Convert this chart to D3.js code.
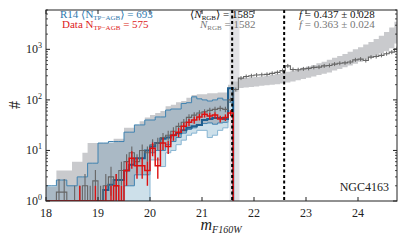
<!DOCTYPE html>
<html>
<head>
<meta charset="utf-8">
<script src="https://cdn.jsdelivr.net/npm/d3@7"></script>
<style>
body { margin: 0; background: #fff; }
text { font-family: "Liberation Serif", "DejaVu Serif", serif; }
</style>
</head>
<body>
<script>
// histogram bins (lower edges, 0.1 mag wide)
var binWidth = 0.1;
var agbMag = [18.0, 18.1, 18.2, 18.3, 18.4, 18.5, 18.6, 18.7, 18.8, 18.9,
              19.0, 19.1, 19.2, 19.3, 19.4, 19.5, 19.6, 19.7, 19.8, 19.9,
              20.0, 20.1, 20.2, 20.3, 20.4, 20.5, 20.6, 20.7, 20.8, 20.9,
              21.0, 21.1, 21.2, 21.3, 21.4, 21.5];
var rgbMag = [21.6, 21.7, 21.8, 21.9, 22.0, 22.1, 22.2, 22.3, 22.4, 22.5,
              22.6, 22.7, 22.8, 22.9, 23.0, 23.1, 23.2, 23.3, 23.4, 23.5,
              23.6, 23.7, 23.8, 23.9, 24.0, 24.1, 24.2, 24.3, 24.4, 24.5,
              24.6, 24.7];

// model total (light gray band) above the TRGB
var totalLo = [0, 0, 0, 0, 0, 0, 0, 0, 0, 0,
               0, 0, 0, 0, 0, 2, 2, 3.3, 3.3, 3.3,
               9, 10, 10, 13, 15, 18, 22, 26, 28, 32,
               34, 35, 33, 35, 36, 90];
var totalHi = [1.9, 1.9, 4, 4, 4, 6, 6, 9, 14, 14,
               14, 14, 14, 17, 17, 28, 28, 32, 38, 45,
               50, 55, 60, 75, 80, 90, 95, 110, 125, 130,
               130, 135, 135, 140, 140, 200];
// R14 TP-AGB model band
var r14Lo = [0, 0, 0, 0, 0, 0, 0, 0, 0, 0,
             0, 0, 0, 0, 0, 2, 2, 3.3, 3.3, 3.3,
             9, 10, 10, 13, 15, 18, 22, 26, 28, 32,
             34, 35, 33, 35, 36, 90];
var r14Hi = [2, 2, 2.6, 2.6, 2, 2, 3, 3, 5.6, 5.6,
             14, 14, 15, 15, 15, 23, 23, 32, 32, 40,
             40, 46, 46, 63, 66, 66, 85, 88, 115, 105,
             100, 95, 100, 108, 100, 170];
// lower R14 band (light blue)
var r14AltLo = [0, 0, 0, 0, 0, 0, 0, 0, 0, 0,
                0, 0, 0, 0, 0, 0, 0, 0, 0, 0,
                6.5, 6.5, 4.8, 9, 10, 13, 16, 20, 22, 25,
                25, 18, 20, 25, 28, 60];
var r14Median = [0, 0, 0, 0, 0, 0, 0, 0, 0, 0,
                 1, 1.65, 2.1, 2.6, 2.6, 4, 5.2, 7, 7, 10,
                 12, 14, 17, 18, 20, 22, 25, 28, 30, 32,
                 40, 42, 44, 44, 42, 170];
// observed counts
var dataAll = [0, 0, 1.5, 1.5, 0, 1, 1, 2, 1, 2.5,
               1, 2, 3, 2, 4, 6, 9, 6, 10, 9,
               13, 14, 18, 20, 24, 30, 36, 45, 50, 55,
               58, 62, 65, 68, 65, 100];
var dataAgb = [0, 0, 0, 0, 0, 0, 1, 0, 0, 1,
               0, 1, 1, 2, 1, 4, 7, 5, 5, 4,
               11, 5, 14, 12, 20, 23, 30, 36, 40, 46,
               52, 48, 50, 42, 45, 55];
// below the TRGB
var rgbLo = [145, 172, 175, 180, 185, 190, 195, 200, 205, 212,
             220, 230, 245, 260, 275, 290, 310, 330, 350, 380,
             410, 440, 480, 520, 570, 620, 680, 750, 830, 920,
             1050, 1300];
var rgbHi = [230, 270, 275, 280, 285, 290, 300, 310, 325, 340,
             360, 380, 400, 430, 460, 490, 530, 570, 620, 680,
             740, 810, 900, 1000, 1100, 1250, 1400, 1600, 1850, 2200,
             2700, 3500];
var rgbData = [160, 270, 290, 300, 310, 315, 320, 335, 350, 380,
               470, 400, 395, 410, 420, 440, 445, 470, 480, 510,
               530, 540, 560, 620, 640, 600, 700, 720, 760, 820,
               880, 1030];

var trgb = 21.58, trgbLo = 21.53, trgbHi = 21.72, trgbPlusOne = 22.58;
var xTicks = [18, 19, 20, 21, 22, 23, 24];
var yTicks = [1, 10, 100, 1000];

var width = 407, height = 244,
    plotLeft = 46, plotRight = 397, plotTop = 10, plotBottom = 201;

var svg = d3.select('body')
    .append('svg')
    .attr('width', width)
    .attr('height', height);

var x = d3.scaleLinear().domain([18, 24.75]).range([plotLeft, plotRight]);
var y = d3.scaleLog().domain([1, 6000]).range([plotBottom, plotTop]).clamp(true);

//zero counts fall to the bottom of the log axis
var yv = function (v) { return y(Math.max(v, 0.5)); };

svg.append('clipPath').attr('id', 'plot')
    .append('rect')
    .attr('x', plotLeft).attr('y', plotTop)
    .attr('width', plotRight - plotLeft).attr('height', plotBottom - plotTop);

var g = svg.append('g').attr('clip-path', 'url(#plot)');

//turn binned values into step points
var steps = function (mags, vals, dropEnd) {
    var pts = [];
    mags.forEach(function (m, i) {
        pts.push([m, vals[i]]);
        pts.push([m + binWidth, vals[i]]);
    });
    if (dropEnd) pts.push([mags[mags.length - 1] + binWidth, 0]);
    return pts;
};
var bandSteps = function (mags, lo, hi) {
    var pts = [];
    mags.forEach(function (m, i) {
        pts.push({ m: m, lo: lo[i], hi: hi[i] });
        pts.push({ m: m + binWidth, lo: lo[i], hi: hi[i] });
    });
    return pts;
};

var line = d3.line().x(function (d) { return x(d[0]); }).y(function (d) { return yv(d[1]); });
var area = d3.area()
    .x(function (d) { return x(d.m); })
    .y0(function (d) { return yv(d.lo); })
    .y1(function (d) { return yv(d.hi); });

//TRGB uncertainty strip
g.append('rect')
    .attr('x', x(trgbLo)).attr('y', plotTop)
    .attr('width', x(trgbHi) - x(trgbLo)).attr('height', plotBottom - plotTop)
    .style('fill', '#e2e2e6');

//light gray model bands
g.append('path').attr('d', area(bandSteps(agbMag, totalLo, totalHi))).style('fill', '#c9cacd');
g.append('path').attr('d', area(bandSteps(rgbMag, rgbLo, rgbHi))).style('fill', '#c9cacd');

//R14 bands
g.append('path').attr('d', area(bandSteps(agbMag, r14AltLo, r14Lo))).style('fill', '#cde0ea');
g.append('path').attr('d', area(bandSteps(agbMag, r14Lo, r14Hi)))
    .style('fill', '#3d7ea8').style('fill-opacity', 0.22);
g.append('path').attr('d', line(steps(agbMag, r14Hi, true)))
    .style('fill', 'none').style('stroke', '#3f82b0').style('stroke-width', 1);
g.append('path').attr('d', line(steps(agbMag, r14Lo, false)))
    .style('fill', 'none').style('stroke', '#3f82b0').style('stroke-width', 1);
g.append('path').attr('d', line(steps(agbMag, r14AltLo, false)))
    .style('fill', 'none').style('stroke', '#86b4d2').style('stroke-width', 1);
g.append('path').attr('d', line(steps(agbMag, r14Median, true)))
    .style('fill', 'none').style('stroke', '#1f5f8f').style('stroke-width', 2);

//error bars at bin centres
var errorBars = function (mags, vals, color, w, minHalf) {
    mags.forEach(function (m, i) {
        var v = vals[i];
        if (v <= 0) return;
        var e = Math.sqrt(v);
        var cx = x(m + binWidth / 2);
        var y1 = yv(v - e), y2 = yv(v + e), yc = yv(v);
        y1 = Math.max(y1, yc + minHalf);
        y2 = Math.min(y2, yc - minHalf);
        g.append('line')
            .attr('x1', cx).attr('x2', cx).attr('y1', y1).attr('y2', y2)
            .style('stroke', color).style('stroke-width', w);
    });
};

//observed histograms
var allMag = agbMag.concat(rgbMag);
var allData = dataAll.concat(rgbData);
g.append('path').attr('d', line(steps(allMag, allData, false)))
    .style('fill', 'none').style('stroke', '#666').style('stroke-width', 1.1);
errorBars(agbMag, dataAll, '#666', 1.1, 0);
errorBars(rgbMag, rgbData, '#666', 1, 2);

g.append('path').attr('d', line(steps(agbMag, dataAgb, true)))
    .style('fill', 'none').style('stroke', '#dd1111').style('stroke-width', 1.5);
errorBars(agbMag, dataAgb, '#dd1111', 1.4, 0);

//TRGB and TRGB+1 markers
[trgb, trgbPlusOne].forEach(function (m) {
    svg.append('line')
        .attr('x1', x(m)).attr('x2', x(m)).attr('y1', plotTop).attr('y2', plotBottom)
        .style('stroke', '#000').style('stroke-width', 2)
        .style('stroke-dasharray', '3,2.5');
});

//frame and ticks
svg.append('rect')
    .attr('x', plotLeft).attr('y', plotTop)
    .attr('width', plotRight - plotLeft).attr('height', plotBottom - plotTop)
    .style('fill', 'none').style('stroke', '#222').style('stroke-width', 1);

xTicks.forEach(function (t) {
    svg.append('line').attr('x1', x(t)).attr('x2', x(t)).attr('y1', plotBottom).attr('y2', plotBottom - 4)
        .style('stroke', '#222');
    svg.append('line').attr('x1', x(t)).attr('x2', x(t)).attr('y1', plotTop).attr('y2', plotTop + 4)
        .style('stroke', '#222');
    svg.append('text')
        .attr('x', x(t)).attr('y', 217)
        .attr('text-anchor', 'middle')
        .style('font-size', '12px').style('fill', '#222')
        .text(t);
});

yTicks.forEach(function (t, k) {
    svg.append('line').attr('x1', plotLeft).attr('x2', plotLeft + 4).attr('y1', y(t)).attr('y2', y(t))
        .style('stroke', '#222');
    svg.append('line').attr('x1', plotRight).attr('x2', plotRight - 4).attr('y1', y(t)).attr('y2', y(t))
        .style('stroke', '#222');
    for (var j = 2; j < 10; j++) {
        var v = t * j;
        if (v > 6000) break;
        svg.append('line').attr('x1', plotLeft).attr('x2', plotLeft + 2).attr('y1', y(v)).attr('y2', y(v))
            .style('stroke', '#222').style('stroke-width', 0.8);
        svg.append('line').attr('x1', plotRight).attr('x2', plotRight - 2).attr('y1', y(v)).attr('y2', y(v))
            .style('stroke', '#222').style('stroke-width', 0.8);
    }
    var lab = svg.append('text')
        .attr('x', 42).attr('y', y(t) + 4)
        .attr('text-anchor', 'end')
        .style('font-size', '12px').style('fill', '#222');
    lab.append('tspan').text('10');
    lab.append('tspan').attr('dy', -5).style('font-size', '8px').text(k);
});

//axis labels
svg.append('text')
    .attr('transform', 'translate(20,105) rotate(-90)')
    .attr('text-anchor', 'middle')
    .style('font-size', '16px').style('fill', '#222')
    .text('#');

var xl = svg.append('text')
    .attr('x', 221).attr('y', 230)
    .attr('text-anchor', 'middle')
    .style('font-size', '16px').style('font-style', 'italic').style('fill', '#222');
xl.append('tspan').text('m');
xl.append('tspan').attr('dy', 3).style('font-size', '10px').text('F160W');

//annotations
var addLabel = function (xp, yp, color, parts) {
    var t = svg.append('text')
        .attr('x', xp).attr('y', yp)
        .style('font-size', '11px').style('fill', color);
    parts.forEach(function (p) {
        var s = t.append('tspan').text(p.s);
        if (p.sub) s.attr('dy', 2).style('font-size', '7px');
        if (p.up) s.attr('dy', -2);
        if (p.it) s.style('font-style', 'italic');
    });
};

addLabel(60, 18, '#2f78ad', [{ s: 'R14 ⟨N' }, { s: 'TP−AGB', sub: true }, { s: '⟩ = 693', up: true }]);
addLabel(62, 28, '#dd1a22', [{ s: 'Data N' }, { s: 'TP−AGB', sub: true }, { s: ' = 575', up: true }]);
addLabel(190, 18, '#111', [{ s: '⟨' }, { s: 'N', it: true }, { s: 'RGB', sub: true }, { s: '⟩ = 1585', up: true }]);
addLabel(200, 28, '#777', [{ s: 'N', it: true }, { s: 'RGB', sub: true }, { s: ' = 1582', up: true }]);
addLabel(299, 18, '#111', [{ s: 'f', it: true }, { s: ' = 0.437 ± 0.028' }]);
addLabel(299, 28, '#777', [{ s: 'f', it: true }, { s: ' = 0.363 ± 0.024' }]);

svg.append('text')
    .attr('x', 389).attr('y', 191)
    .attr('text-anchor', 'end')
    .style('font-size', '12px').style('fill', '#222')
    .text('NGC4163');
</script>
</body>
</html>
